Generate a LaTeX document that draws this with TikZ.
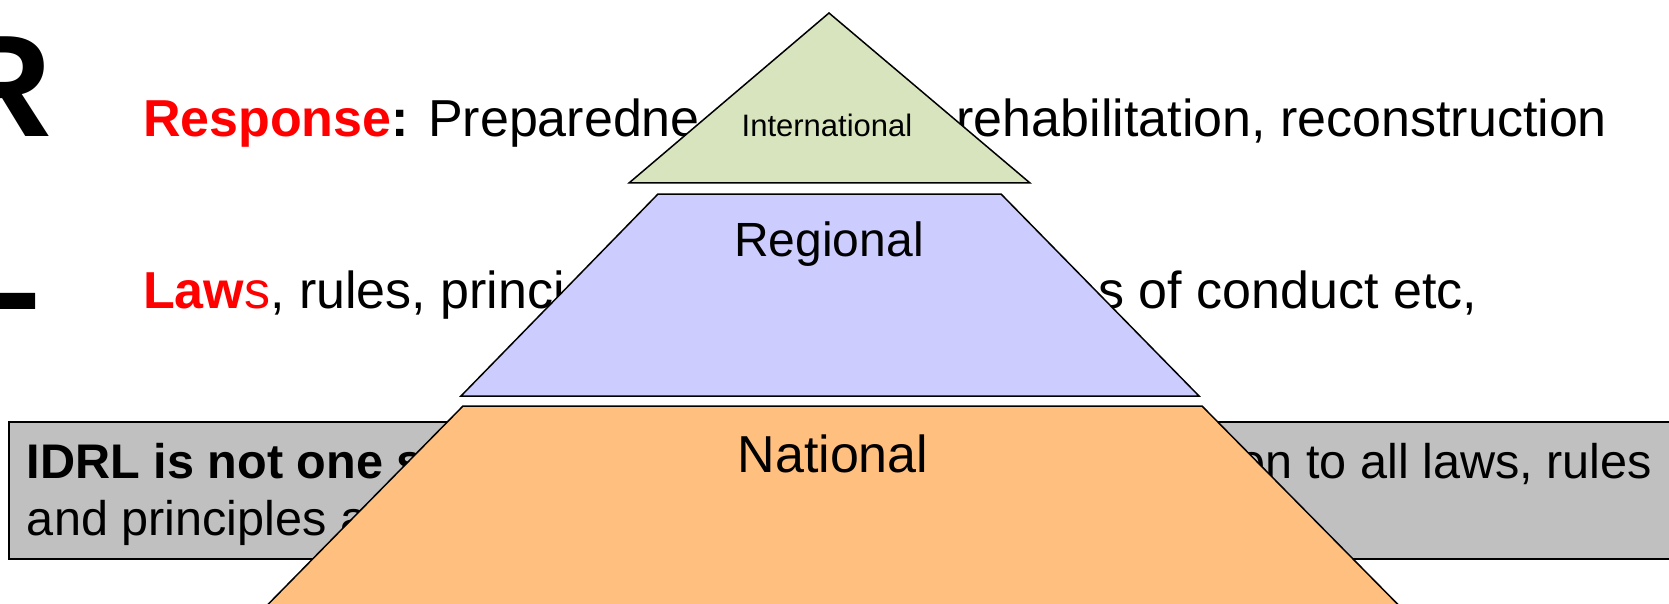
\documentclass[tikz,border=0pt]{standalone}
\usepackage{fontspec}
\setmainfont{Liberation Sans}
\definecolor{intlfill}{HTML}{D7E4BD}
\definecolor{regfill}{HTML}{CCCCFF}
\definecolor{natfill}{HTML}{FFBF7F}
\definecolor{boxfill}{HTML}{C0C0C0}
\definecolor{hired}{HTML}{FF0000}
\begin{document}
\begin{tikzpicture}[x=1pt,y=-1pt,
  txt/.style={inner sep=0pt, outer sep=0pt},
  layerbox/.style={draw=black, line width=1.5pt, line join=miter},
  f145/.style={font=\fontsize{145}{145}\selectfont\bfseries},
  f52/.style={font=\fontsize{52}{60}\selectfont},
  f49/.style={font=\fontsize{48.6}{56}\selectfont}]
\useasboundingbox (0,0) rectangle (1669,604);
\clip (0,0) rectangle (1669,604);
\fill[white] (0,0) rectangle (1669,604);
% big cut-off title letters
\node[txt, f145, anchor=base east] (bigR) at (52,137) {R};
\node[txt, f145, anchor=base west] (bigL) at (-48,309) {L};
% bullet lines
\node[txt, f52, anchor=base west] (respL) at (143,137)
  {\textcolor{hired}{\textbf{Response}}\textbf{:} Preparedne};
\node[txt, f52, anchor=base east] (respR) at (1607,137)
  {rehabilitation, reconstruction};
\node[txt, f52, anchor=base west] (lawsL) at (143,308)
  {\textcolor{hired}{\textbf{Law}s}, rules, princi};
\node[txt, f52, anchor=base east] (lawsR) at (1477,308)
  {s of conduct etc,};
% grey box
\node[draw=black, line width=2pt, fill=boxfill, minimum width=1720pt, minimum height=137pt,
  anchor=north west, inner sep=0pt] (idrlbox) at (8,421) {};
\node[txt, f49, anchor=base west] (boxL1) at (27,478) {\textbf{IDRL is not one s}};
\node[txt, f49, anchor=base east] (boxR1) at (1652,478) {en to all laws, rules};
\node[txt, f49, anchor=base west] (boxL2) at (27,535) {and principles a};
% pyramid
\draw[layerbox, fill=natfill] (463,406) -- (1202,406) -- (1433,640) -- (233,640) -- cycle;
\draw[layerbox, fill=regfill] (658,194) -- (1001,194) -- (1199,396) -- (461,396) -- cycle;
\draw[layerbox, fill=intlfill] (829,13) -- (1030,183) -- (629,183) -- cycle;
\node[txt, font=\fontsize{31}{31}\selectfont, anchor=base] (intl) at (827,137) {International};
\node[txt, font=\fontsize{48}{48}\selectfont, anchor=base] (reg) at (829,256) {Regional};
\node[txt, font=\fontsize{52}{52}\selectfont, anchor=base] (nat) at (833,472.5) {National};
\end{tikzpicture}
\end{document}
